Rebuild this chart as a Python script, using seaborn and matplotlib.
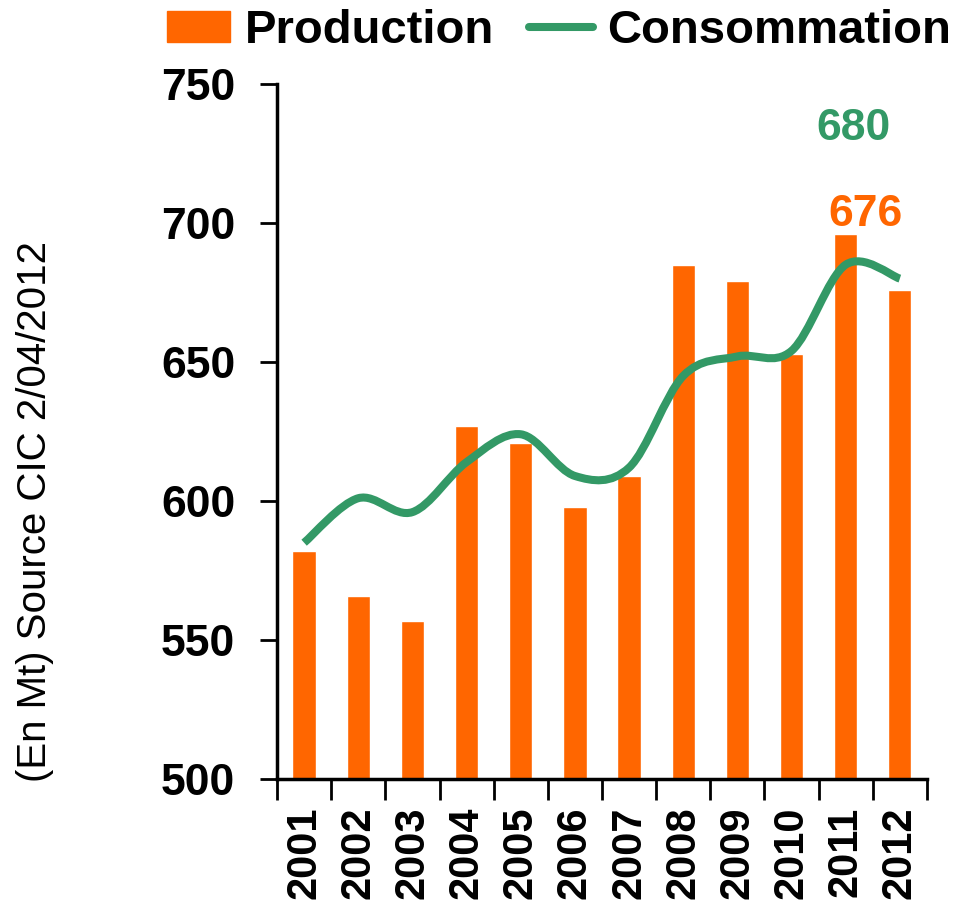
import numpy as np
import pandas as pd
import matplotlib
matplotlib.use("Agg")
import matplotlib.pyplot as plt
from matplotlib.path import Path
from matplotlib.patches import PathPatch, Patch
from matplotlib.lines import Line2D
import seaborn as sns

# Data (Mt)
years = ["2001", "2002", "2003", "2004", "2005", "2006",
         "2007", "2008", "2009", "2010", "2011", "2012"]
production = [582, 566, 557, 627, 621, 598, 609, 685, 679, 653, 696, 676]
consommation = [585, 601, 596, 614, 624, 609, 612, 645, 652, 654, 685, 680]

orange = "#FF6600"
green = "#339966"

sns.set_style("white")
plt.rcParams['font.family'] = ['Liberation Sans', 'DejaVu Sans']
plt.rcParams['text.color'] = 'black'
plt.rcParams['xtick.color'] = 'black'
plt.rcParams['ytick.color'] = 'black'
plt.rcParams['axes.labelcolor'] = 'black'

df = pd.DataFrame({"year": years, "production": production})

fig = plt.figure(figsize=(9.7, 9.11), dpi=100)
ax = fig.add_axes([0.2856, 0.1449, 0.67, 0.7629])

sns.barplot(data=df, x="year", y="production", color=orange, saturation=1,
            width=0.43, ax=ax)

# smoothed line (Excel-like) : cubic Bezier through each year point
xs = np.arange(len(years), dtype=float)
ys = np.array(consommation, dtype=float)
px = np.concatenate([[xs[0]], xs, [xs[-1]]])
py = np.concatenate([[ys[0]], ys, [ys[-1]]])
verts = [(xs[0], ys[0])]
codes = [Path.MOVETO]
for i in range(1, len(px) - 2):
    c1 = (px[i] + (px[i + 1] - px[i - 1]) / 6, py[i] + (py[i + 1] - py[i - 1]) / 6)
    c2 = (px[i + 1] - (px[i + 2] - px[i]) / 6, py[i + 1] - (py[i + 2] - py[i]) / 6)
    verts += [c1, c2, (px[i + 1], py[i + 1])]
    codes += [Path.CURVE4] * 3
ax.add_patch(PathPatch(Path(verts, codes), facecolor="none", edgecolor=green,
                       lw=5.8, capstyle="butt", joinstyle="round", zorder=3))

ax.set_ylim(500, 750)
ax.set_xlim(-0.5, len(years) - 0.5)
ax.set_yticks([500, 550, 600, 650, 700, 750])
ax.set_xlabel("")
ax.set_ylabel("")
ax.tick_params(axis="y", labelsize=32, length=12, width=2, direction="out",
               pad=18, left=True, colors="black")
for lab in ax.get_yticklabels():
    lab.set_fontweight("bold")
ax.set_xticks(xs)
ax.set_xticklabels(years, rotation=90, fontsize=30, fontweight="bold")
ax.tick_params(axis="x", length=0, pad=20, colors="black")
ax.set_xticks(np.arange(-0.5, len(years), 1.0), minor=True)
ax.tick_params(axis="x", which="minor", length=15, width=2, direction="out",
               bottom=True, colors="black")

sns.despine(ax=ax)
for s in ["left", "bottom"]:
    ax.spines[s].set_linewidth(2.5)
    ax.spines[s].set_color("black")

# data labels for last year
ax.text(10.15, 734, str(consommation[-1]), color=green,
        fontsize=32, fontweight="bold", ha="center", va="center")
ax.text(10.37, 703, str(production[-1]), color=orange,
        fontsize=32, fontweight="bold", ha="center", va="center")

fig.text(0.036, 0.438, "(En Mt) Source CIC 2/04/2012", rotation=90,
         fontsize=29, ha="center", va="center", color="black")

handles = [Patch(color=orange, label="Production"),
           Line2D([], [], color=green, lw=5.8, label="Consommation")]
leg = fig.legend(handles=handles, loc="center", bbox_to_anchor=(0.576, 0.966),
                 ncol=2, frameon=False, handlelength=1.35, handleheight=0.65,
                 handletextpad=0.3, columnspacing=0.75, borderpad=0,
                 prop={"size": 34, "weight": "bold"})
for t in leg.get_texts():
    t.set_color("black")

fig.savefig("out.png", dpi=100)
